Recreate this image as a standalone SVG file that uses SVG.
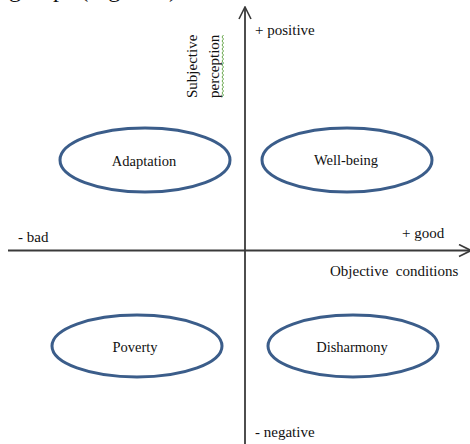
<svg xmlns="http://www.w3.org/2000/svg" width="470" height="444" viewBox="0 0 470 444">
<style>
text{font-family:"Liberation Serif","Times New Roman",serif;fill:#111;}
.lbl{font-size:15px;}
.nl{font-size:14.5px;text-anchor:middle;}
.ax{stroke:#3a3a3a;stroke-width:1.8;fill:none;}
.el{fill:#fff;stroke:#3b5d8a;stroke-width:3;}
</style>
<defs>
<marker id="arr" viewBox="0 0 14 14" refX="13" refY="7" markerWidth="14" markerHeight="14" markerUnits="userSpaceOnUse" orient="auto">
<path d="M1,1 L13,7 L1,13" fill="none" stroke="#3a3a3a" stroke-width="1.6"/>
</marker>
</defs>
<rect width="470" height="444" fill="#fff"/>
<text x="9" y="-3" style="font-size:24px">groups (Figure 1).</text>
<g id="connectors">
<line class="ax" x1="245" y1="444" x2="245" y2="7" marker-end="url(#arr)"/>
<line class="ax" x1="8" y1="250.5" x2="471" y2="250.5" marker-end="url(#arr)"/>
</g>
<g id="axis-labels">
<text class="lbl" x="255" y="35">+ positive</text>
<text class="lbl" transform="translate(197,98) rotate(-90)">Subjective</text>
<text class="lbl" transform="translate(219,98) rotate(-90)">perception</text>
<path d="M222,97 l1.5,-2 l-1.5,-2 l1.5,-2 l-1.5,-2 l1.5,-2 l-1.5,-2 l1.5,-2 l-1.5,-2 l1.5,-2 l-1.5,-2 l1.5,-2 l-1.5,-2 l1.5,-2 l-1.5,-2 l1.5,-2 l-1.5,-2 l1.5,-2 l-1.5,-2 l1.5,-2 l-1.5,-2 l1.5,-2 l-1.5,-2 l1.5,-2 l-1.5,-2 l1.5,-2 l-1.5,-2 l1.5,-2 l-1.5,-2 l1.5,-2 l-1.5,-2 l1.5,-2" fill="none" stroke="#5a9e3a" stroke-width="0.9"/>
<text class="lbl" x="18" y="242">- bad</text>
<text class="lbl" x="402" y="238">+ good</text>
<text class="lbl" x="330" y="276" xml:space="preserve">Objective  conditions</text>
<text class="lbl" x="255" y="437">- negative</text>
</g>
<g id="adaptation">
<ellipse class="el" cx="145" cy="160" rx="85" ry="32"/>
<text class="nl" x="144" y="166">Adaptation</text>
</g>
<g id="well-being">
<ellipse class="el" cx="347" cy="160" rx="85" ry="32"/>
<text class="nl" x="346" y="165">Well-being</text>
</g>
<g id="poverty">
<ellipse class="el" cx="137" cy="346" rx="85" ry="31"/>
<text class="nl" x="135" y="352">Poverty</text>
</g>
<g id="disharmony">
<ellipse class="el" cx="353" cy="346" rx="85" ry="31"/>
<text class="nl" x="352" y="352">Disharmony</text>
</g>
</svg>
